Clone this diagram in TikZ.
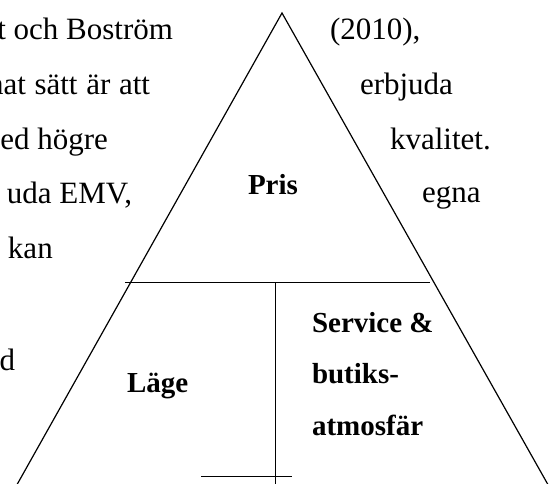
\documentclass[tikz,border=0pt]{standalone}
\usepackage{fontspec}
\setmainfont{Liberation Serif}
\begin{document}
\begin{tikzpicture}[x=1pt,y=-1pt,
  body/.style={inner sep=0pt,outer sep=0pt,font=\fontsize{31}{31}\selectfont},
  lbl/.style={inner sep=0pt,outer sep=0pt,font=\fontsize{29}{29}\selectfont\bfseries},
  edge/.style={line width=1.2pt,black}]
\useasboundingbox (0,0) rectangle (555,484);
\clip (0,0) rectangle (555,484);
% background text
\node[body,anchor=base east] (t1) at (173,40) {t och Boström};
\node[body,anchor=base west] (t2) at (-12,95) {\makebox[162pt][s]{nat sätt är att}};
\node[body,anchor=base east] (t3) at (108,150) {ed högre};
\node[body,anchor=base east] (t4) at (132,204) {uda EMV,};
\node[body,anchor=base west] (t5) at (8,259) {kan};
\node[body,anchor=base east] (t6) at (15,370) {d};
\node[body,anchor=base west] (r1) at (330,40) {(2010),};
\node[body,anchor=base west] (r2) at (360,95) {erbjuda};
\node[body,anchor=base west] (r3) at (390,150) {kvalitet.};
\node[body,anchor=base west] (r4) at (422,203) {egna};
% triangle
\coordinate (apex) at (282,13);
\coordinate (lb) at (14,490);
\coordinate (rb) at (551,490);
\coordinate (hl) at (125,283);
\coordinate (hr) at (430,283);
\coordinate (vt) at (275,283);
\coordinate (vb) at (275,490);
\coordinate (sl) at (201,476);
\coordinate (sr) at (292,476);
\draw[edge] (lb) -- (apex) -- (rb);
\draw[edge,line width=1pt] (hl) -- (hr);
\draw[edge,line width=1pt] (vt) -- (vb);
\draw[edge,line width=0.8pt] (sl) -- (sr);
% labels
\node[lbl,anchor=base west] (pris) at (248,195) {Pris};
\node[lbl,anchor=base west] (lage) at (127,392) {Läge};
\node[lbl,anchor=base west] (s1) at (312,332) {Service \&};
\node[lbl,anchor=base west] (s2) at (312,383) {butiks-};
\node[lbl,anchor=base west] (s3) at (312,435) {atmosfär};
\end{tikzpicture}
\end{document}
